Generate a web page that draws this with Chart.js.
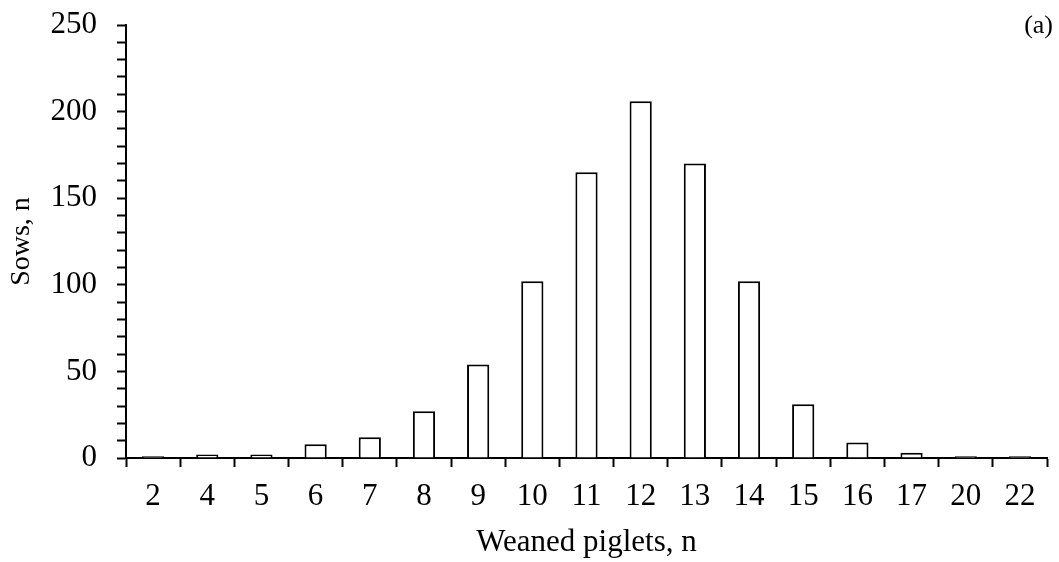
<!DOCTYPE html>
<html>
<head>
<meta charset="utf-8">
<script src="https://cdn.jsdelivr.net/npm/chart.js@4"></script>
<style>
  html, body { margin: 0; padding: 0; background: #fff; }
  #wrap { width: 1059px; height: 562px; }
</style>
</head>
<body>
<div id="wrap"><canvas id="chart" width="1059" height="562"></canvas></div>
<script>
// Data
const piglets = ['2', '4', '5', '6', '7', '8', '9', '10', '11', '12', '13', '14', '15', '16', '17', '20', '22'];
const sows = [1, 2, 2, 8, 12, 27, 54, 102, 165, 206, 170, 102, 31, 9, 3, 1, 1];
const yMax = 250;
const yStep = 10;
const yLabelStep = 50;

const serif = '"Liberation Serif", "Times New Roman", serif';

// Panel letter in the top right corner
const panelLabel = {
    id: 'panelLabel',
    afterDraw(chart) {
        const ctx = chart.ctx;
        ctx.save();
        ctx.font = '26px ' + serif;
        ctx.fillStyle = '#000';
        ctx.textAlign = 'right';
        ctx.textBaseline = 'middle';
        ctx.fillText('(a)', 1053, 26);
        ctx.restore();
    }
};

window.onload = function() {
    const ctx = document.getElementById('chart').getContext('2d');
    new Chart(ctx, {
        type: 'bar',
        data: {
            labels: piglets,
            datasets: [{
                label: 'Sows',
                data: sows,
                backgroundColor: '#fff',
                borderColor: '#000',
                borderWidth: 2,
                barPercentage: 0.41,
                categoryPercentage: 1.0
            }]
        },
        options: {
            responsive: false,
            animation: false,
            layout: {
                padding: { top: 25, right: 12, left: 5, bottom: 0 }
            },
            scales: {
                x: {
                    offset: true,
                    grid: {
                        offset: true,
                        drawOnChartArea: false,
                        drawTicks: true,
                        tickLength: 9,
                        tickWidth: 2,
                        tickColor: '#000'
                    },
                    border: { color: '#000', width: 2 },
                    ticks: {
                        color: '#000',
                        font: { family: serif, size: 31 },
                        padding: 11,
                        maxRotation: 0,
                        autoSkip: false
                    },
                    title: {
                        display: true,
                        text: 'Weaned piglets, n',
                        color: '#000',
                        font: { family: serif, size: 31 },
                        padding: { top: 0, bottom: 1 }
                    },
                    afterFit: function(scale) {
                        scale.height = 562 - 458;
                        scale.paddingLeft = 0;
                        scale.paddingRight = 0;
                    }
                },
                y: {
                    min: 0,
                    max: yMax,
                    grid: {
                        drawOnChartArea: false,
                        drawTicks: true,
                        tickLength: 9,
                        tickWidth: 2,
                        tickColor: '#000'
                    },
                    border: { color: '#000', width: 2 },
                    ticks: {
                        stepSize: yStep,
                        autoSkip: false,
                        color: '#000',
                        font: { family: serif, size: 31 },
                        padding: 20,
                        callback: function(v) { return v % yLabelStep === 0 ? v : ''; }
                    },
                    title: {
                        display: true,
                        text: 'Sows, n',
                        color: '#000',
                        font: { family: serif, size: 28 },
                        padding: { top: 0, bottom: 0 }
                    },
                    afterFit: function(scale) {
                        scale.width = 126 - 5;
                        scale.paddingTop = 0;
                        scale.paddingBottom = 0;
                    }
                }
            },
            plugins: {
                legend: { display: false },
                tooltip: { enabled: false }
            }
        },
        plugins: [panelLabel]
    });
};
</script>
</body>
</html>
